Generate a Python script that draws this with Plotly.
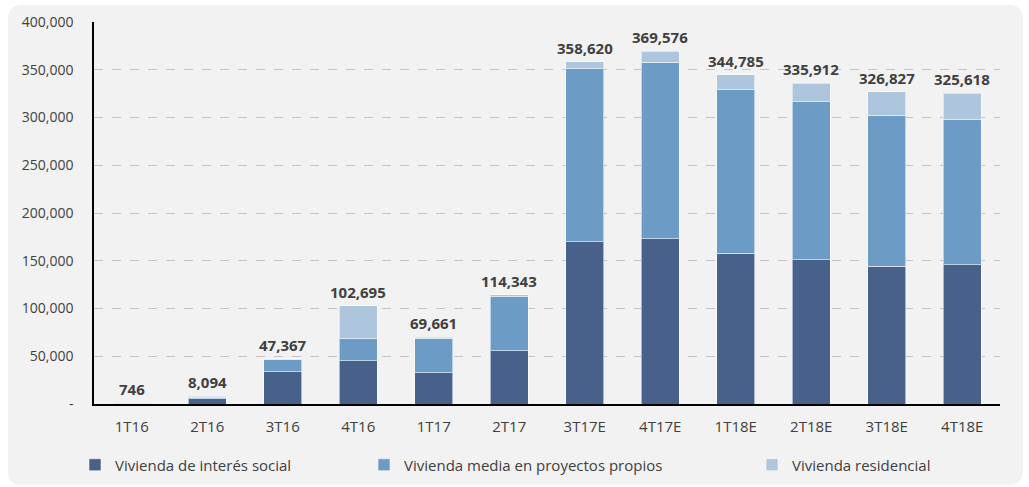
import plotly.graph_objects as go

quarters = ["1T16", "2T16", "3T16", "4T16", "1T17", "2T17",
            "3T17E", "4T17E", "1T18E", "2T18E", "3T18E", "4T18E"]
interes_social = [500, 5500, 34000, 45500, 32800, 56000,
                  170000, 173000, 158000, 151000, 144500, 146000]
media_propios = [246, 1800, 12900, 22700, 36000, 56500,
                 181000, 185000, 171000, 165500, 158000, 151700]
residencial = [0, 794, 467, 34495, 861, 1843,
               7620, 11576, 15785, 19412, 24327, 27918]
totals = [746, 8094, 47367, 102695, 69661, 114343,
          358620, 369576, 344785, 335912, 326827, 325618]

y_ticks = [0, 50000, 100000, 150000, 200000, 250000, 300000, 350000, 400000]
y_tick_text = ["-", "50,000", "100,000", "150,000", "200,000",
               "250,000", "300,000", "350,000", "400,000"]

FONT = "Open Sans, Noto Sans, sans-serif"
TEXT = "#404040"

series = [
    ("Vivienda de interés social", interes_social, "#47618A", "legend"),
    ("Vivienda media en proyectos propios", media_propios, "#6C9BC6", "legend2"),
    ("Vivienda residencial", residencial, "#ADC6DE", "legend3"),
]

fig = go.Figure()
for name, vals, color, leg in series:
    fig.add_trace(go.Bar(
        x=quarters, y=vals, name=name, legend=leg, showlegend=True,
        marker=dict(color=color, line=dict(color="rgba(255,255,255,0.55)", width=1)),
        hoverinfo="x+y+name",
    ))

for q, t in zip(quarters, totals):
    fig.add_annotation(x=q, y=t, text=f"<b>{t:,}</b>", showarrow=False,
                       yanchor="bottom", yshift=2,
                       font=dict(family=FONT, size=15, color=TEXT))

# Plot area geometry in pixels (used to place the rounded panel behind everything)
L, R, T, B = 94, 1000, 22, 404
W, H = R - L, B - T


def px(xp):
    return (xp - L) / W


def py(yp):
    return (B - yp) / H


x0, x1, y0, y1, r = 8, 1023, 5, 485, 14
path = (f"M {px(x0 + r)},{py(y0)} L {px(x1 - r)},{py(y0)} "
        f"Q {px(x1)},{py(y0)} {px(x1)},{py(y0 + r)} "
        f"L {px(x1)},{py(y1 - r)} Q {px(x1)},{py(y1)} {px(x1 - r)},{py(y1)} "
        f"L {px(x0 + r)},{py(y1)} Q {px(x0)},{py(y1)} {px(x0)},{py(y1 - r)} "
        f"L {px(x0)},{py(y0 + r)} Q {px(x0)},{py(y0)} {px(x0 + r)},{py(y0)} Z")
fig.add_shape(type="path", path=path, xref="paper", yref="paper",
              fillcolor="#F2F2F2", line=dict(width=0), layer="below")

legend_common = dict(orientation="h", yanchor="middle", y=py(465),
                     xanchor="left", bgcolor="rgba(0,0,0,0)",
                     font=dict(family=FONT, size=15, color=TEXT),
                     itemwidth=30, visible=True)

fig.update_layout(
    width=1029, height=487,
    margin=dict(l=L, r=1029 - R, t=T, b=487 - B, autoexpand=False),
    paper_bgcolor="white", plot_bgcolor="rgba(0,0,0,0)",
    barmode="stack", bargap=0.5, showlegend=True,
    font=dict(family=FONT, size=14, color=TEXT),
    legend=dict(x=px(75), **legend_common),
    legend2=dict(x=px(364), **legend_common),
    legend3=dict(x=px(752), **legend_common),
    xaxis=dict(showline=True, linecolor="black", linewidth=1.5,
               ticks="", ticklabelstandoff=8,
               tickfont=dict(family=FONT, size=15, color=TEXT)),
    yaxis=dict(range=[0, 400000], tickvals=y_ticks, ticktext=y_tick_text,
               showline=True, linecolor="black", linewidth=1.5,
               showgrid=True, gridcolor="#C4C4C4", griddash="dash", gridwidth=1,
               zeroline=False, ticks="", ticklabelstandoff=16,
               tickfont=dict(family=FONT, size=14, color=TEXT)),
)

fig.write_html("out.html")
